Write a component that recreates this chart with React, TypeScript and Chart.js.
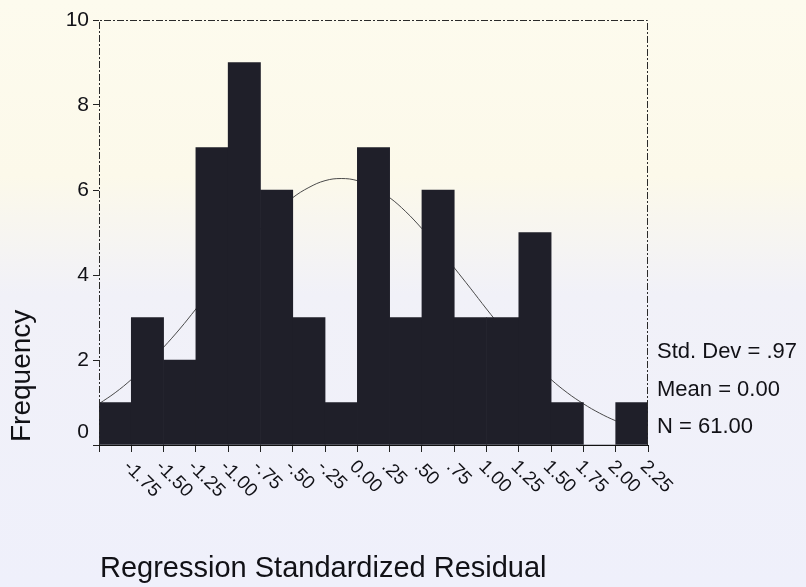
import React, { useEffect, useRef } from "react";
import { Chart, registerables } from "chart.js";

Chart.register(...registerables);

// ---- data ----
const binCenters = [-1.75, -1.5, -1.25, -1.0, -0.75, -0.5, -0.25, 0.0, 0.25, 0.5, 0.75, 1.0, 1.25, 1.5, 1.75, 2.0, 2.25];
const tickLabels = ["-1.75", "-1.50", "-1.25", "-1.00", "-.75", "-.50", "-.25", "0.00", ".25", ".50", ".75", "1.00", "1.25", "1.50", "1.75", "2.00", "2.25"];
const frequencies = [1, 3, 2, 7, 9, 6, 3, 1, 7, 3, 6, 3, 3, 5, 1, 0, 1];
const curveX = [-1.875, -1.75, -1.625, -1.5, -1.375, -1.25, -1.125, -1.0, -0.875, -0.75, -0.625, -0.5, -0.375, -0.25, -0.125, 0, 0.125, 0.25, 0.375, 0.5, 0.625, 0.75, 0.875, 1.0, 1.125, 1.25, 1.375, 1.5, 1.625, 1.75, 1.875, 2.0, 2.125, 2.25, 2.375];
const curveY = [0.97, 1.23, 1.54, 1.9, 2.3, 2.73, 3.2, 3.69, 4.17, 4.65, 5.09, 5.49, 5.82, 6.06, 6.22, 6.27, 6.22, 6.06, 5.82, 5.49, 5.09, 4.65, 4.17, 3.69, 3.2, 2.73, 2.3, 1.9, 1.54, 1.23, 0.97, 0.75, 0.57, 0.43, 0.32];
const statsLines = ["Std. Dev = .97", "Mean = 0.00", "N = 61.00"];
const xTitle = "Regression Standardized Residual";
const yTitle = "Frequency";
const xMin = -1.875;
const xMax = 2.375;
const yMax = 10;
const yStep = 2;

const FONT = "'Liberation Sans', Arial, Helvetica, sans-serif";
const INK = "#111116";

const decorPlugin = {
  id: "decor",
  beforeDraw(chart: any) {
    const { ctx, width, height } = chart;
    ctx.save();
    const g = ctx.createLinearGradient(0, 0, 0, height);
    g.addColorStop(0, "#fdfbee");
    g.addColorStop(0.3, "#fcf9ea");
    g.addColorStop(0.5, "#f1f1f8");
    g.addColorStop(1, "#eff0fb");
    ctx.fillStyle = g;
    ctx.fillRect(0, 0, width, height);
    ctx.restore();
  },
  afterDatasetsDraw(chart: any) {
    const { ctx, chartArea: a } = chart;
    ctx.save();
    ctx.strokeStyle = "#2a2a2a";
    ctx.lineWidth = 1;
    ctx.setLineDash([7, 2, 2, 2]);
    ctx.beginPath();
    ctx.moveTo(a.left + 0.5, a.bottom);
    ctx.lineTo(a.left + 0.5, a.top + 0.5);
    ctx.lineTo(a.right - 0.5, a.top + 0.5);
    ctx.lineTo(a.right - 0.5, a.bottom);
    ctx.stroke();
    ctx.restore();
  },
  afterDraw(chart: any) {
    const { ctx, chartArea: a } = chart;
    const xs = chart.scales.x;
    const ys = chart.scales.y;
    ctx.save();
    ctx.fillStyle = INK;
    // the zero label of the y axis sits a little above the baseline
    ctx.font = `21px ${FONT}`;
    ctx.textAlign = "right";
    ctx.textBaseline = "middle";
    ctx.fillText("0", a.left - 10, ys.getPixelForValue(0) - 13);
    // x tick labels, rotated clockwise
    ctx.font = `19px ${FONT}`;
    ctx.textAlign = "left";
    ctx.textBaseline = "top";
    binCenters.forEach((v, i) => {
      const px = xs.getPixelForValue(v);
      ctx.save();
      ctx.translate(px + 18, a.bottom + 12);
      ctx.rotate(Math.PI / 4);
      ctx.fillText(tickLabels[i], 0, 0);
      ctx.restore();
    });
    // stats
    ctx.font = `22px ${FONT}`;
    ctx.textBaseline = "alphabetic";
    statsLines.forEach((s, i) => {
      ctx.fillText(s, a.right + 9, 358 + i * 37.5);
    });
    // x title
    ctx.font = `29px ${FONT}`;
    ctx.fillText(xTitle, 100, 577);
    // y title
    ctx.save();
    ctx.font = `28px ${FONT}`;
    ctx.translate(30, 442);
    ctx.rotate(-Math.PI / 2);
    ctx.textAlign = "left";
    ctx.fillText(yTitle, 0, 0);
    ctx.restore();
    ctx.restore();
  },
};

export default function App() {
  const ref = useRef<HTMLCanvasElement | null>(null);
  useEffect(() => {
    if (!ref.current) return;
    const chart = new Chart(ref.current, {
      type: "bar",
      data: {
        datasets: [
          {
            type: "bar",
            data: binCenters.map((x, i) => ({ x, y: frequencies[i] })),
            backgroundColor: "#1f1f29",
            borderWidth: 0,
            barPercentage: 1,
            categoryPercentage: 1,
            grouped: false,
            order: 1,
          } as any,
          {
            type: "line",
            data: curveX.map((x, i) => ({ x, y: curveY[i] })),
            borderColor: "#4a4a4a",
            borderWidth: 1,
            pointRadius: 0,
            tension: 0.4,
            fill: false,
            order: 2,
          } as any,
        ],
      },
      options: {
        responsive: false,
        animation: false,
        events: [],
        layout: { padding: { top: 20, right: 158, bottom: 135, left: 0 } },
        plugins: { legend: { display: false }, tooltip: { enabled: false }, title: { display: false } },
        scales: {
          x: {
            type: "linear",
            min: xMin,
            max: xMax,
            offset: false,
            afterBuildTicks: (s: any) => {
              s.ticks = binCenters.map((v) => ({ value: v }));
            },
            ticks: { display: false },
            grid: { display: true, drawOnChartArea: false, drawTicks: true, tickLength: 7, color: "#222", lineWidth: 1 },
            border: { display: true, color: "#111", width: 1 },
          },
          y: {
            type: "linear",
            min: 0,
            max: yMax,
            afterFit: (s: any) => {
              s.width = 99;
            },
            ticks: {
              stepSize: yStep,
              color: INK,
              padding: 4,
              font: { size: 21, family: FONT },
              callback: (v: any) => (v === 0 ? "" : String(v)),
            },
            grid: { display: true, drawOnChartArea: false, drawTicks: true, tickLength: 6, color: "#222", lineWidth: 1 },
            border: { display: false },
          },
        },
      } as any,
      plugins: [decorPlugin],
    });
    return () => chart.destroy();
  }, []);
  return (
    <div style={{ position: "absolute", left: 0, top: 0, width: 806, height: 587 }}>
      <canvas ref={ref} width={806} height={587} style={{ display: "block", width: 806, height: 587 }} />
    </div>
  );
}
